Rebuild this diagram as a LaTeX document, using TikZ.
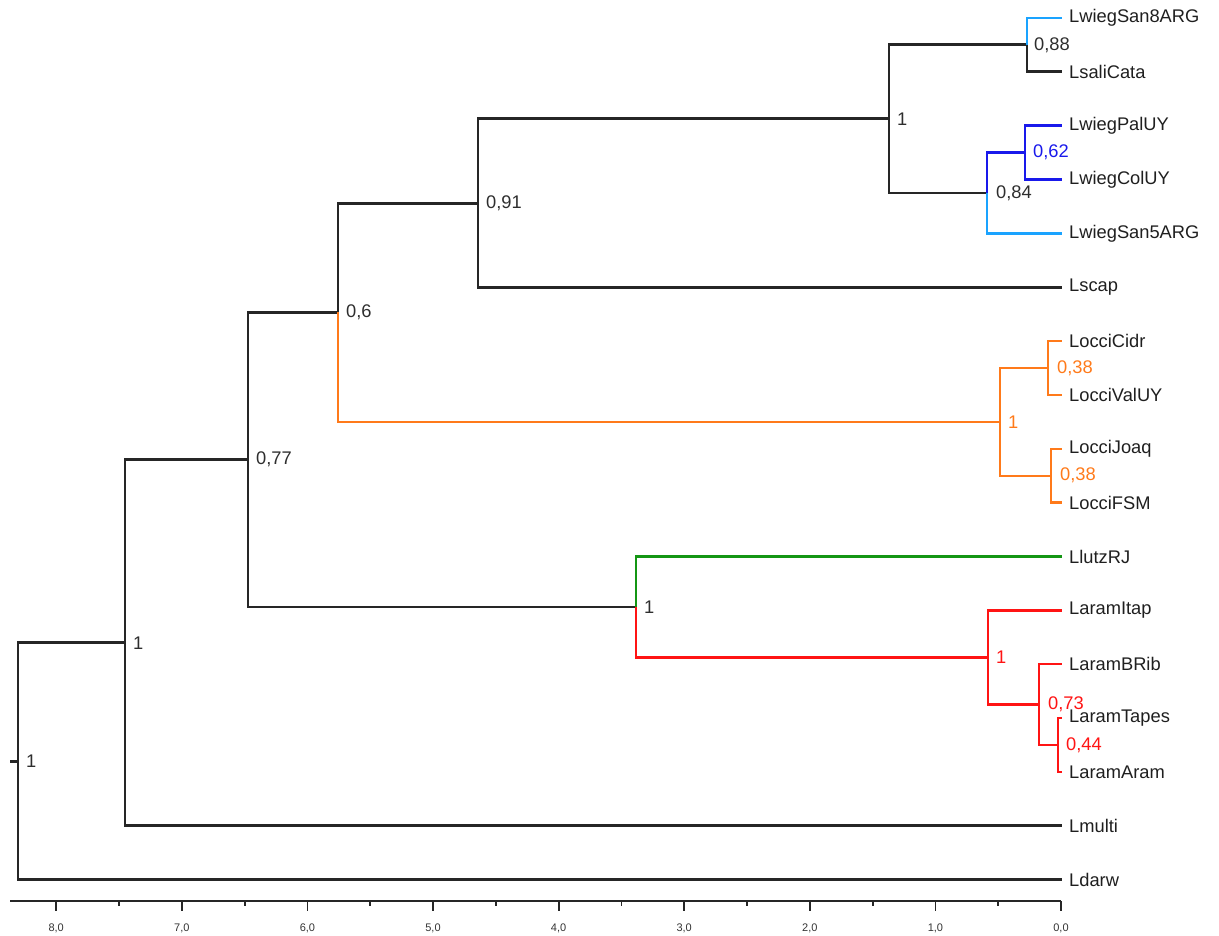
\documentclass[tikz,border=0pt]{standalone}
\usepackage{fontspec}
\setmainfont{Liberation Sans}
\begin{document}
\begin{tikzpicture}[x=1pt,y=-1pt,
  br/.style={line width=2.9pt,color=black!85,line join=miter},
  cbr/.style={line width=2.4pt,line join=miter},
  leaf/.style={anchor=west,inner sep=0pt,text=black!88,font=\fontsize{18.3}{20}\selectfont},
  boot/.style={anchor=west,inner sep=0pt,text=black!82,font=\fontsize{18.3}{20}\selectfont},
  axlab/.style={inner sep=0pt,text=black!80,font=\fontsize{11}{12}\selectfont},
  tick/.style={line width=1.8pt,color=black!85}]
\definecolor{lblue}{RGB}{26,163,255}
\definecolor{dblue}{RGB}{25,25,235}
\definecolor{orng}{RGB}{255,122,26}
\definecolor{grn}{RGB}{20,150,20}
\definecolor{rd}{RGB}{255,20,20}
\useasboundingbox (0,0) rectangle (1219,936);
% leaf tips
\foreach \n/\i/\t in {a/0/LwiegSan8ARG,b/1/LsaliCata,c/2/LwiegPalUY,d/3/LwiegColUY,e/4/LwiegSan5ARG,f/5/Lscap,g/6/LocciCidr,h/7/LocciValUY,i/8/LocciJoaq,j/9/LocciFSM,k/10/LlutzRJ,l/11/LaramItap,m/12/LaramBRib,n/13/LaramTapes,o/14/LaramAram,p/15/Lmulti,q/16/Ldarw}{
  \coordinate (t\n) at (1062,18+53.85*\i);
  \node[leaf] (l\n) at (1069,18+53.85*\i) {\t};
}
% internal nodes
\coordinate (n088) at (1027,44.9);
\coordinate (n062) at (1025,152.6);
\coordinate (n084) at (987,193);
\coordinate (n1a) at (889,118.95);
\coordinate (n091) at (478,203.1);
\coordinate (n038a) at (1048,368);
\coordinate (n038b) at (1051,475.7);
\coordinate (n1o) at (1000,421.9);
\coordinate (n06) at (338,312.5);
\coordinate (n044) at (1058,745);
\coordinate (n073) at (1039,704.6);
\coordinate (n1r) at (988,657.5);
\coordinate (n1g) at (636,607);
\coordinate (n077) at (248,459.75);
\coordinate (n1b) at (125,642.75);
\coordinate (root) at (18,761.2);
\coordinate (stub) at (10,761.2);
% black branches
\draw[br] (stub) -- (root);
\draw[br] (root) |- (n1b);
\draw[br] (root) |- (tq);
\draw[br] (n1b) |- (n077);
\draw[br] (n1b) |- (tp);
\draw[br] (n077) |- (n06);
\draw[br] (n077) |- (n1g);
\draw[br] (n06) |- (n091);
\draw[br] (n091) |- (n1a);
\draw[br] (n091) |- (tf);
\draw[br] (n1a) |- (n088);
\draw[br] (n1a) |- (n084);
\draw[br] (n088) |- (tb);
% coloured branches
\draw[cbr,lblue] (n088) |- (ta);
\draw[cbr,lblue] (n084) |- (te);
\draw[cbr,dblue] (n084) |- (n062);
\draw[cbr,dblue] (n062) |- (tc);
\draw[cbr,dblue] (n062) |- (td);
\draw[cbr,orng] (n06) |- (n1o);
\draw[cbr,orng] (n1o) |- (n038a);
\draw[cbr,orng] (n1o) |- (n038b);
\draw[cbr,orng] (n038a) |- (tg);
\draw[cbr,orng] (n038a) |- (th);
\draw[cbr,orng] (n038b) |- (ti);
\draw[cbr,orng] (n038b) |- (tj);
\draw[cbr,grn] (n1g) |- (tk);
\draw[cbr,rd] (n1g) |- (n1r);
\draw[cbr,rd] (n1r) |- (tl);
\draw[cbr,rd] (n1r) |- (n073);
\draw[cbr,rd] (n073) |- (tm);
\draw[cbr,rd] (n073) |- (n044);
\draw[cbr,rd] (n044) |- (tn);
\draw[cbr,rd] (n044) |- (to);
% bootstrap labels
\node[boot] (b1) at ([xshift=8pt]root) {1};
\node[boot] (b2) at ([xshift=8pt]n1b) {1};
\node[boot] (b3) at ([xshift=8pt]n077) {0,77};
\node[boot] (b4) at ([xshift=8pt]n06) {0,6};
\node[boot] (b5) at ([xshift=8pt]n091) {0,91};
\node[boot] (b6) at ([xshift=8pt]n1a) {1};
\node[boot] (b7) at ([xshift=7pt]n088) {0,88};
\node[boot] (b8) at ([xshift=9pt]n084) {0,84};
\node[boot,text=dblue] (b9) at ([xshift=8pt]n062) {0,62};
\node[boot,text=orng] (b10) at ([xshift=8pt]n1o) {1};
\node[boot,text=orng] (b11) at ([xshift=9pt]n038a) {0,38};
\node[boot,text=orng] (b12) at ([xshift=9pt]n038b) {0,38};
\node[boot] (b13) at ([xshift=8pt]n1g) {1};
\node[boot,text=rd] (b14) at ([xshift=8pt]n1r) {1};
\node[boot,text=rd] (b15) at ([xshift=9pt]n073) {0,73};
\node[boot,text=rd] (b16) at ([xshift=8pt]n044) {0,44};
% axis
\coordinate (ax0) at (10,901);
\coordinate (ax1) at (1061,901);
\draw[tick] (ax0) -- (ax1);
\foreach \h/\lab in {0/0,1/1,2/2,3/3,4/4,5/5,6/6,7/7,8/8}{
  \draw[tick] (1061-125.6*\h,901) -- (1061-125.6*\h,911);
  \node[axlab] (ax\h) at (1061-125.6*\h,928) {\lab,0};
}
\foreach \h in {0.5,1.5,2.5,3.5,4.5,5.5,6.5,7.5}{
  \draw[tick] (1061-125.6*\h,901) -- (1061-125.6*\h,906);
}
\end{tikzpicture}
\end{document}
